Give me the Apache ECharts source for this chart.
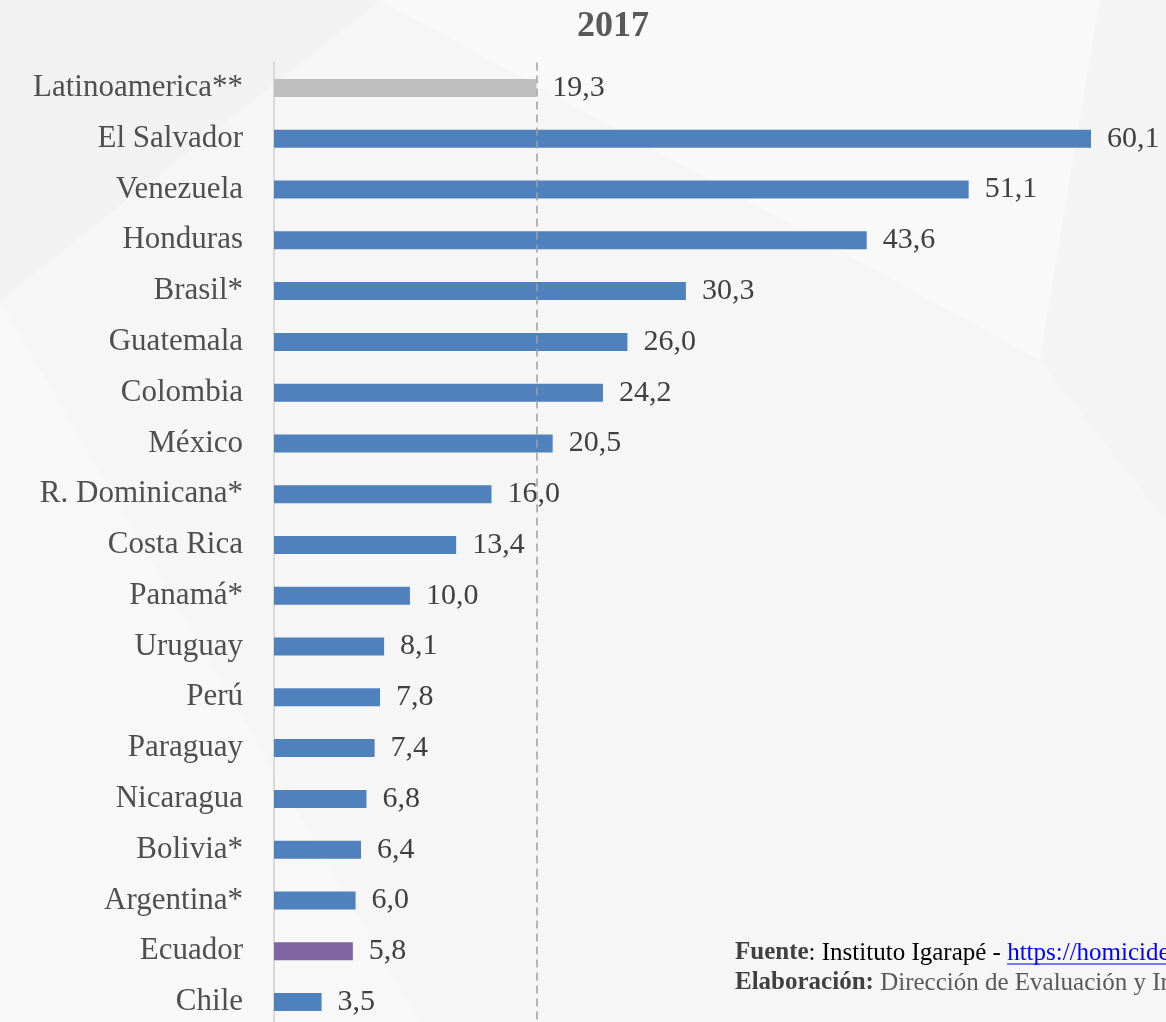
<!DOCTYPE html>
<html>
<head>
<meta charset="utf-8">
<script src="https://cdn.jsdelivr.net/npm/echarts@6/dist/echarts.min.js"></script>
<style>html,body{margin:0;padding:0;background:#f6f6f6}#c{width:1166px;height:1022px}</style>
</head>
<body>
<div id="c"></div>
<script>
const titleText = '2017';
const categories = ['Latinoamerica**','El Salvador','Venezuela','Honduras','Brasil*','Guatemala','Colombia','México','R. Dominicana*','Costa Rica','Panamá*','Uruguay','Perú','Paraguay','Nicaragua','Bolivia*','Argentina*','Ecuador','Chile'];
const values = [19.3,60.1,51.1,43.6,30.3,26.0,24.2,20.5,16.0,13.4,10.0,8.1,7.8,7.4,6.8,6.4,6.0,5.8,3.5];
const averageValue = 19.3;
const barColors = {'Latinoamerica**':'#BFBFBF','Ecuador':'#8064A2'};
const defaultColor = '#4F81BD';
const sourceBold = 'Fuente';
const sourceText = ': Instituto Igarapé - ';
const sourceLink = 'https://homicide.igarape.org.br/';
const elabBold = 'Elaboración:';
const elabText = ' Dirección de Evaluación y Información';

const chart = echarts.init(document.getElementById('c'));
const serif = '"Liberation Serif", "DejaVu Serif", serif';
const noteSize = 25;
const ctx = document.createElement('canvas').getContext('2d');
ctx.font = 'bold ' + noteSize + 'px ' + serif;
let linkX = 735 + ctx.measureText(sourceBold).width;
ctx.font = noteSize + 'px ' + serif;
linkX += ctx.measureText(sourceText).width;

chart.setOption({
  backgroundColor: '#f6f6f6',
  animation: false,
  grid: {left: 274, top: 62.6, height: 964.8, right: 8.4, outerBoundsMode: 'none', containLabel: false},
  xAxis: {type: 'value', min: 0, max: 65, show: false},
  yAxis: {
    type: 'category', data: categories, inverse: true,
    axisLine: {show: true, lineStyle: {color: '#d9d9d9', width: 2}},
    axisTick: {show: false},
    axisLabel: {color: '#4f4f4f', fontFamily: serif, fontSize: 31, margin: 31}
  },
  series: [{
    type: 'bar', barWidth: 18,
    data: values.map((v, i) => ({value: v, itemStyle: {color: barColors[categories[i]] || defaultColor}})),
    label: {show: true, position: 'right', distance: 16, color: '#404040', fontFamily: serif, fontSize: 30,
      formatter: p => p.value.toFixed(1).replace('.', ',')},
    markLine: {
      silent: true, symbol: 'none', label: {show: false},
      lineStyle: {color: '#a0a0a0', type: [8, 5], width: 1.5},
      data: [{xAxis: averageValue}]
    },
    z: 3
  }],
  graphic: [
    {type: 'polygon', z: -10, silent: true, shape: {points: [[0,0],[380,0],[0,300]]}, style: {fill: '#f2f2f2'}},
    {type: 'polygon', z: -10, silent: true, shape: {points: [[380,0],[1100,0],[1040,360]]}, style: {fill: '#f9f9f9'}},
    {type: 'polygon', z: -10, silent: true, shape: {points: [[1100,0],[1166,0],[1166,520],[1040,360]]}, style: {fill: '#f4f4f4'}},
    {type: 'polygon', z: -10, silent: true, shape: {points: [[0,300],[0,1022],[420,1022]]}, style: {fill: '#f8f8f8'}},
    {type: 'text', left: 577, top: 9, style: {text: titleText, font: 'bold 36px ' + serif, fill: '#595959'}},
    {type: 'text', left: 735, top: 938, style: {
      text: '{b|' + sourceBold + '}{n|' + sourceText + '}{l|' + sourceLink + '}\n{b|' + elabBold + '}{g|' + elabText + '}',
      lineHeight: 30,
      rich: {
        b: {font: 'bold ' + noteSize + 'px ' + serif, fill: '#404040', lineHeight: 30},
        n: {font: noteSize + 'px ' + serif, fill: '#000000', lineHeight: 30},
        l: {font: noteSize + 'px ' + serif, fill: '#0000FF', lineHeight: 30},
        g: {font: noteSize + 'px ' + serif, fill: '#595959', lineHeight: 30}
      }
    }},
    {type: 'line', silent: true, shape: {x1: linkX, y1: 964, x2: 1166, y2: 964}, style: {stroke: '#0000FF', lineWidth: 1.2}}
  ]
});
</script>
</body>
</html>
